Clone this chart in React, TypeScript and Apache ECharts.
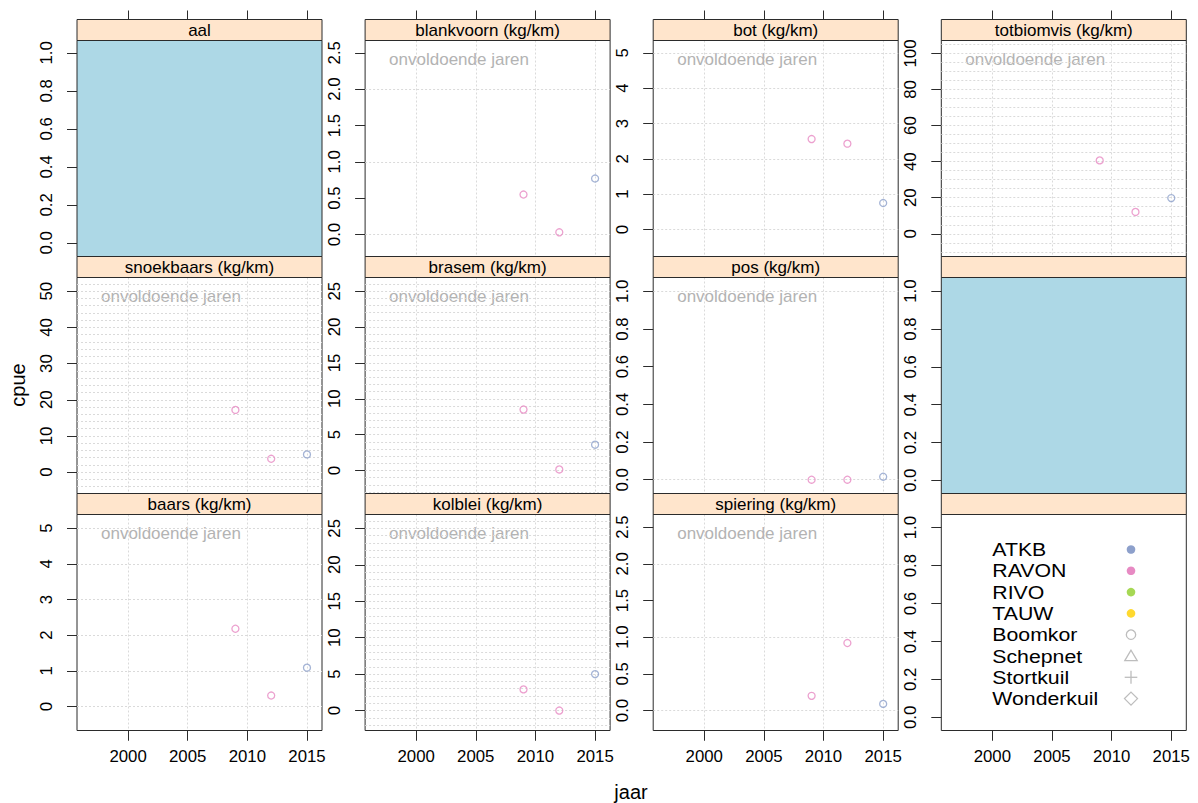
import { useEffect, useRef } from 'react';
import * as echarts from 'echarts';

// Survey years and the agency that fished in each year
const cpueYears = [2009, 2012, 2015];
const cpueSource = ['RAVON', 'RAVON', 'ATKB'];

// cpue per species (kg/km), one value per survey year
const blankvoornCpue = [0.55, 0.03, 0.77];
const botCpue = [2.56, 2.43, 0.75];
const totbiomvisCpue = [40.7, 12.1, 19.8];
const snoekbaarsCpue = [17.2, 3.7, 4.9];
const brasemCpue = [8.5, 0.15, 3.6];
const posCpue = [0.0, 0.0, 0.016];
const baarsCpue = [2.18, 0.31, 1.09];
const kolbleiCpue = [2.9, 0.0, 5.0];
const spieringCpue = [0.2, 0.92, 0.09];

// Tick labels
const yearTicks = [2000, 2005, 2010, 2015];
const ticksFraction = [0, 0.2, 0.4, 0.6, 0.8, 1.0];
const ticksHalf = [0, 0.5, 1, 1.5, 2, 2.5];
const ticksOne = [0, 1, 2, 3, 4, 5];
const ticksTwenty = [0, 20, 40, 60, 80, 100];
const ticksTen = [0, 10, 20, 30, 40, 50];
const ticksFive = [0, 5, 10, 15, 20, 25];

// Legend key
const sourceNames = ['ATKB', 'RAVON', 'RIVO', 'TAUW'];
const sourceColors = ['#8DA0CB', '#E78AC3', '#A6D854', '#FFD92F'];
const gearNames = ['Boomkor', 'Schepnet', 'Stortkuil', 'Wonderkuil'];
const gearShapes = ['circle', 'triangle', 'plus', 'diamond'];

const noteText = 'onvoldoende jaren';

// ---- layout / style ----
const FONT = '"Liberation Sans", Arial, Helvetica, sans-serif';
const LEFT0 = 77;
const COL_STEP = 288.1;
const PANEL_W = 245;
const TOP0 = 19.5;
const ROW_STEP = 237;
const STRIP_H = 21;
const PANEL_H = 216;
const X_MIN = 1995.72;
const X_MAX = 2016.26;
const BORDER = '#2b2b2b';
const STRIP_FILL = '#FFE5CC';
const EMPTY_FILL = '#ADD8E6';
const NOTE_COLOR = '#b3b3b3';
const GEAR_COLOR = '#bdbdbd';
const TICK_FONT = 16.8;
const STRIP_FONT = 17;
const KEY_FONT = 19;
const GRID_LINE = { color: '#dadada', width: 1, type: [2, 2] as number[] };

function seq(from: number, to: number, step: number): number[] {
  const out: number[] = [];
  for (let v = from; v <= to + 1e-9; v += step) out.push(Math.round(v * 1e6) / 1e6);
  return out;
}

type PanelSpec = {
  title: string;
  cpue?: number[];
  yMin: number;
  yMax: number;
  ticks: number[];
  digits: number;
  gridLines?: number[];
  fill?: string;
  legend?: boolean;
};

const panels: PanelSpec[] = [
  { title: 'aal', yMin: -0.072, yMax: 1.065, ticks: ticksFraction, digits: 1, fill: EMPTY_FILL },
  { title: 'blankvoorn (kg/km)', cpue: blankvoornCpue, yMin: -0.303, yMax: 2.669, ticks: ticksHalf, digits: 1, gridLines: seq(0, 2, 1) },
  { title: 'bot (kg/km)', cpue: botCpue, yMin: -0.764, yMax: 5.35, ticks: ticksOne, digits: 0, gridLines: seq(0, 5, 1) },
  { title: 'totbiomvis (kg/km)', cpue: totbiomvisCpue, yMin: -12.6, yMax: 107.2, ticks: ticksTwenty, digits: 0, gridLines: seq(-10, 105, 5) },
  { title: 'snoekbaars (kg/km)', cpue: snoekbaarsCpue, yMin: -5.9, yMax: 53.8, ticks: ticksTen, digits: 0, gridLines: seq(-4, 52, 2) },
  { title: 'brasem (kg/km)', cpue: brasemCpue, yMin: -3.2, yMax: 26.9, ticks: ticksFive, digits: 0, gridLines: seq(-3, 26, 1) },
  { title: 'pos (kg/km)', cpue: posCpue, yMin: -0.073, yMax: 1.073, ticks: ticksFraction, digits: 1, gridLines: seq(0, 1, 1) },
  { title: '', yMin: -0.069, yMax: 1.072, ticks: ticksFraction, digits: 1, fill: EMPTY_FILL },
  { title: 'baars (kg/km)', cpue: baarsCpue, yMin: -0.67, yMax: 5.38, ticks: ticksOne, digits: 0, gridLines: seq(0, 5, 1) },
  { title: 'kolblei (kg/km)', cpue: kolbleiCpue, yMin: -2.74, yMax: 26.9, ticks: ticksFive, digits: 0, gridLines: seq(-2, 26, 1) },
  { title: 'spiering (kg/km)', cpue: spieringCpue, yMin: -0.273, yMax: 2.673, ticks: ticksHalf, digits: 1, gridLines: seq(0, 2, 1) },
  { title: '', yMin: -0.069, yMax: 1.069, ticks: ticksFraction, digits: 1, legend: true },
];

// axis that only draws year ticks (no labels, no line)
function yearTickAxis(gridIndex: number, offset: number, length: number, inside: boolean) {
  return {
    type: 'value',
    gridIndex,
    min: X_MIN,
    max: X_MAX,
    position: 'top',
    offset,
    axisLine: { show: false, onZero: false },
    axisTick: {
      show: true,
      inside,
      customValues: yearTicks,
      length,
      lineStyle: { color: BORDER, width: 1 },
    },
    axisLabel: { show: false },
    splitLine: { show: false },
  };
}

function buildOption() {
  const grids: any[] = [];
  const xAxes: any[] = [];
  const yAxes: any[] = [];
  const series: any[] = [];
  const elements: any[] = [];

  panels.forEach((p, i) => {
    const row = Math.floor(i / 4);
    const col = i % 4;
    const left = LEFT0 + col * COL_STEP;
    const stripTop = TOP0 + row * ROW_STEP;
    const top = stripTop + STRIP_H;
    const hasData = !!p.cpue;
    const bottomRow = row === 2;

    grids.push({
      left,
      top,
      width: PANEL_W,
      height: PANEL_H,
      show: true,
      backgroundColor: p.fill || '#ffffff',
      borderColor: BORDER,
      borderWidth: 1,
    });

    // year axis: vertical reference lines, and labels under the bottom row
    const xIndex = xAxes.length;
    xAxes.push({
      type: 'value',
      gridIndex: i,
      min: X_MIN,
      max: X_MAX,
      position: 'bottom',
      axisLine: { show: false, onZero: false },
      axisTick: {
        show: bottomRow,
        inside: false,
        customValues: yearTicks,
        length: 10,
        lineStyle: { color: BORDER, width: 1 },
      },
      axisLabel: {
        show: bottomRow,
        customValues: yearTicks,
        margin: 17,
        fontSize: TICK_FONT,
        fontFamily: FONT,
        color: '#000',
        hideOverlap: false,
        formatter: (v: number) => String(v),
      },
      splitLine: { show: hasData, lineStyle: GRID_LINE },
    });

    // outward year ticks under the bottom row (top-anchored axis moved to the lower edge)
    if (bottomRow) xAxes.push(yearTickAxis(i, -PANEL_H, 10, true));
    // year ticks above the strips of the top row
    if (row === 0) xAxes.push(yearTickAxis(i, STRIP_H, 9, false));

    // cpue axis with labels
    const yIndex = yAxes.length;
    yAxes.push({
      type: 'value',
      gridIndex: i,
      min: p.yMin,
      max: p.yMax,
      position: 'left',
      axisLine: { show: false, onZero: false },
      axisTick: {
        show: true,
        customValues: p.ticks,
        length: 10,
        lineStyle: { color: BORDER, width: 1 },
      },
      axisLabel: {
        show: true,
        customValues: p.ticks,
        rotate: 90,
        margin: 22,
        fontSize: TICK_FONT,
        fontFamily: FONT,
        color: '#000',
        hideOverlap: false,
        formatter: (v: number) => v.toFixed(p.digits),
      },
      splitLine: { show: false },
    });

    // horizontal reference lines
    if (p.gridLines) {
      yAxes.push({
        type: 'value',
        gridIndex: i,
        min: p.yMin,
        max: p.yMax,
        position: 'left',
        axisLine: { show: false, onZero: false },
        axisTick: { show: false, customValues: p.gridLines },
        axisLabel: { show: false },
        splitLine: { show: true, lineStyle: GRID_LINE },
      });
    }

    if (p.cpue) {
      const values = p.cpue;
      sourceNames.forEach((src, s) => {
        const data = cpueYears
          .map((yr, k) => (cpueSource[k] === src ? [yr, values[k]] : null))
          .filter((d) => d !== null);
        if (!data.length) return;
        series.push({
          type: 'scatter',
          name: src,
          xAxisIndex: xIndex,
          yAxisIndex: yIndex,
          data,
          symbol: 'circle',
          symbolSize: 7,
          itemStyle: { color: 'rgba(0,0,0,0)', borderColor: sourceColors[s], borderWidth: 1.3 },
          emphasis: { disabled: true },
          silent: true,
        });
      });

      elements.push({
        type: 'text',
        x: left + 24,
        y: top + 18.5,
        silent: true,
        style: {
          text: noteText,
          fontSize: STRIP_FONT,
          fontFamily: FONT,
          fill: NOTE_COLOR,
          align: 'left',
          verticalAlign: 'middle',
        },
      });
    }

    // strip
    elements.push({
      type: 'rect',
      silent: true,
      z: 10,
      shape: { x: left, y: stripTop, width: PANEL_W, height: STRIP_H },
      style: { fill: STRIP_FILL, stroke: BORDER, lineWidth: 1 },
    });
    if (p.title) {
      elements.push({
        type: 'text',
        silent: true,
        z: 11,
        x: left + PANEL_W / 2,
        y: stripTop + STRIP_H / 2 + 0.5,
        style: {
          text: p.title,
          fontSize: STRIP_FONT,
          fontFamily: FONT,
          fill: '#000',
          align: 'center',
          verticalAlign: 'middle',
        },
      });
    }

    // key
    if (p.legend) {
      const textX = left + 51;
      const symX = left + 189.7;
      const rowY0 = top + 35;
      const rowStep = 21.3;
      const keyNames = [...sourceNames, ...gearNames];
      keyNames.forEach((name, k) => {
        const cy = rowY0 + k * rowStep;
        elements.push({
          type: 'text',
          silent: true,
          x: textX,
          y: cy,
          scaleX: 1.12,
          style: {
            text: name,
            fontSize: KEY_FONT,
            fontFamily: FONT,
            fill: '#000',
            align: 'left',
            verticalAlign: 'middle',
          },
        });
        if (k < sourceNames.length) {
          elements.push({
            type: 'circle',
            silent: true,
            shape: { cx: symX, cy, r: 4.3 },
            style: { fill: sourceColors[k] },
          });
        } else {
          const shape = gearShapes[k - sourceNames.length];
          const st = { fill: 'none', stroke: GEAR_COLOR, lineWidth: 1.3 };
          if (shape === 'circle') {
            elements.push({ type: 'circle', silent: true, shape: { cx: symX, cy, r: 4.7 }, style: st });
          } else if (shape === 'triangle') {
            elements.push({
              type: 'polygon',
              silent: true,
              shape: { points: [[symX, cy - 5.8], [symX - 6.2, cy + 4.6], [symX + 6.2, cy + 4.6]] },
              style: st,
            });
          } else if (shape === 'plus') {
            elements.push({ type: 'line', silent: true, shape: { x1: symX - 6.3, y1: cy, x2: symX + 6.3, y2: cy }, style: st });
            elements.push({ type: 'line', silent: true, shape: { x1: symX, y1: cy - 6.5, x2: symX, y2: cy + 6.5 }, style: st });
          } else {
            elements.push({
              type: 'polygon',
              silent: true,
              shape: { points: [[symX, cy - 6.5], [symX + 6.5, cy], [symX, cy + 6.5], [symX - 6.5, cy]] },
              style: st,
            });
          }
        }
      });
    }
  });

  // outer axis titles
  elements.push({
    type: 'text',
    silent: true,
    x: 17.5,
    y: 385,
    rotation: Math.PI / 2,
    style: { text: 'cpue', fontSize: 20, fontFamily: FONT, fill: '#000', align: 'center', verticalAlign: 'middle' },
  });
  elements.push({
    type: 'text',
    silent: true,
    x: 631,
    y: 792,
    style: { text: 'jaar', fontSize: 20, fontFamily: FONT, fill: '#000', align: 'center', verticalAlign: 'middle' },
  });

  return {
    animation: false,
    backgroundColor: '#ffffff',
    textStyle: { fontFamily: FONT },
    grid: grids,
    xAxis: xAxes,
    yAxis: yAxes,
    series,
    graphic: { elements },
  };
}

export default function App() {
  const ref = useRef<HTMLDivElement>(null);
  useEffect(() => {
    if (!ref.current) return;
    const chart = echarts.init(ref.current, undefined, { renderer: 'svg' });
    chart.setOption(buildOption() as any);
    return () => chart.dispose();
  }, []);
  return (
    <div
      ref={ref}
      style={{ position: 'fixed', left: 0, top: 0, width: 1198, height: 803, background: '#fff' }}
    />
  );
}
